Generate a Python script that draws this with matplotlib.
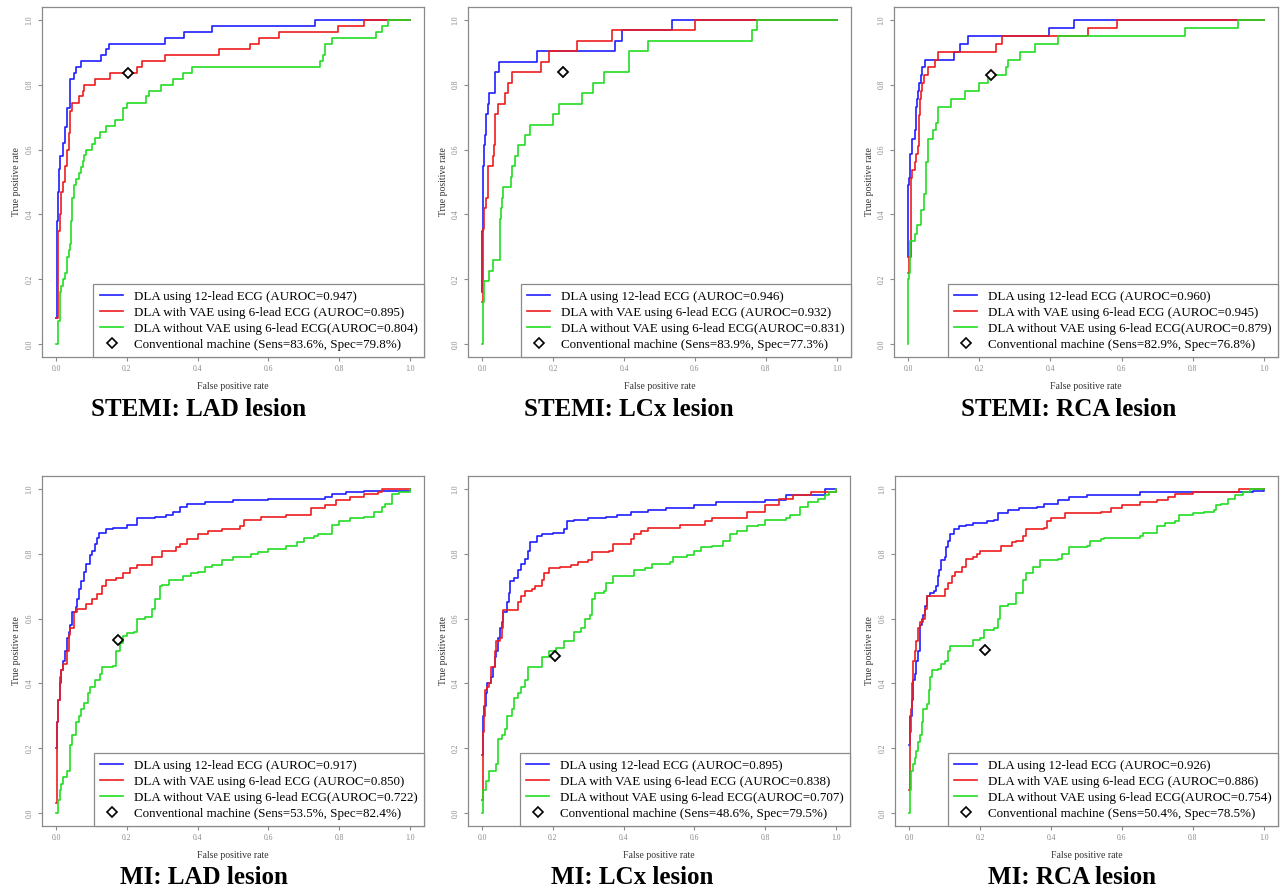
import matplotlib
matplotlib.use("Agg")
import matplotlib.pyplot as plt
from matplotlib.lines import Line2D

# ---- data: ROC curves, (fpr, tpr) vertices ----
# each point starts a plateau (drawn with steps-post)
stemi_lad_12 = [(0, 0.08), (0.003, 0.38), (0.005, 0.47), (0.008, 0.54), (0.012, 0.58),
                (0.02, 0.62), (0.025, 0.67), (0.03, 0.727), (0.038, 0.78), (0.04, 0.818),
                (0.05, 0.836), (0.055, 0.855), (0.07, 0.873), (0.127, 0.891), (0.141, 0.91),
                (0.15, 0.927), (0.308, 0.945), (0.361, 0.964), (0.44, 0.982), (0.732, 1.0), (1, 1.0)]
stemi_lad_vae = [(0, 0.08), (0.005, 0.35), (0.01, 0.4), (0.015, 0.47), (0.02, 0.5),
                 (0.025, 0.55), (0.03, 0.6), (0.035, 0.65), (0.04, 0.72), (0.045, 0.745),
                 (0.065, 0.764), (0.075, 0.782), (0.08, 0.8), (0.11, 0.818), (0.151, 0.836),
                 (0.228, 0.855), (0.243, 0.873), (0.308, 0.891), (0.46, 0.91), (0.547, 0.927),
                 (0.573, 0.945), (0.63, 0.964), (0.796, 0.982), (0.87, 1.0), (1, 1.0)]
stemi_lad_novae = [(0, 0.0), (0.005, 0.07), (0.01, 0.16), (0.015, 0.18), (0.02, 0.2),
                   (0.025, 0.22), (0.03, 0.27), (0.035, 0.29), (0.04, 0.31), (0.042, 0.33),
                   (0.043, 0.38), (0.045, 0.45), (0.05, 0.49), (0.055, 0.51), (0.065, 0.527),
                   (0.07, 0.545), (0.075, 0.564), (0.08, 0.582), (0.085, 0.6), (0.1, 0.618),
                   (0.11, 0.636), (0.125, 0.655), (0.14, 0.673), (0.165, 0.691), (0.19, 0.727),
                   (0.2, 0.745), (0.254, 0.764), (0.262, 0.782), (0.297, 0.8), (0.33, 0.818),
                   (0.36, 0.836), (0.385, 0.855), (0.747, 0.873), (0.755, 0.891), (0.76, 0.927),
                   (0.78, 0.945), (0.903, 0.964), (0.92, 0.982), (0.938, 1.0), (1, 1.0)]

stemi_lcx_12 = [(0, 0.16), (0.0, 0.35), (0.002, 0.48), (0.003, 0.548), (0.005, 0.613),
                (0.008, 0.645), (0.012, 0.71), (0.016, 0.742), (0.02, 0.774), (0.035, 0.806),
                (0.037, 0.839), (0.047, 0.871), (0.154, 0.903), (0.375, 0.935), (0.393, 0.968),
                (0.536, 1.0), (1, 1.0)]
stemi_lcx_vae = [(0, 0.13), (0.003, 0.355), (0.006, 0.42), (0.01, 0.452), (0.015, 0.548),
                 (0.03, 0.58), (0.033, 0.613), (0.036, 0.71), (0.045, 0.742), (0.065, 0.774),
                 (0.073, 0.806), (0.083, 0.839), (0.167, 0.871), (0.188, 0.903), (0.268, 0.935),
                 (0.365, 0.968), (0.6, 1.0), (1, 1.0)]
stemi_lcx_novae = [(0, 0.0), (0.002, 0.13), (0.004, 0.194), (0.02, 0.226), (0.03, 0.258),
                   (0.05, 0.387), (0.053, 0.419), (0.057, 0.452), (0.06, 0.484), (0.08, 0.516),
                   (0.085, 0.548), (0.093, 0.58), (0.1, 0.613), (0.12, 0.645), (0.135, 0.677),
                   (0.2, 0.71), (0.216, 0.742), (0.282, 0.774), (0.313, 0.806), (0.343, 0.839),
                   (0.414, 0.903), (0.468, 0.935), (0.76, 0.968), (0.774, 1.0), (1, 1.0)]

stemi_rca_12 = [(0, 0.27), (0.0, 0.49), (0.003, 0.512), (0.005, 0.585), (0.01, 0.61),
                (0.012, 0.634), (0.018, 0.659), (0.022, 0.732), (0.025, 0.756), (0.028, 0.78),
                (0.03, 0.805), (0.037, 0.829), (0.04, 0.854), (0.047, 0.878), (0.13, 0.902),
                (0.145, 0.927), (0.168, 0.951), (0.396, 0.976), (0.467, 1.0), (1, 1.0)]
stemi_rca_vae = [(0, 0.22), (0.003, 0.27), (0.007, 0.512), (0.012, 0.537), (0.018, 0.561),
                 (0.023, 0.585), (0.028, 0.61), (0.03, 0.707), (0.033, 0.756), (0.036, 0.78),
                 (0.04, 0.805), (0.043, 0.829), (0.057, 0.854), (0.076, 0.878), (0.085, 0.902),
                 (0.247, 0.927), (0.264, 0.951), (0.507, 0.976), (0.587, 1.0), (1, 1.0)]
stemi_rca_novae = [(0, 0.0), (0.0, 0.2), (0.002, 0.22), (0.004, 0.27), (0.006, 0.317),
                   (0.018, 0.341), (0.024, 0.366), (0.035, 0.415), (0.044, 0.463), (0.05, 0.561),
                   (0.055, 0.634), (0.07, 0.659), (0.077, 0.683), (0.085, 0.732), (0.12, 0.756),
                   (0.161, 0.78), (0.198, 0.805), (0.224, 0.829), (0.276, 0.854), (0.28, 0.878),
                   (0.314, 0.902), (0.356, 0.927), (0.422, 0.951), (0.778, 0.976), (0.927, 1.0),
                   (1, 1.0)]

mi_lad_12 = [(0, 0.2), (0.003, 0.28), (0.005, 0.35), (0.01, 0.4), (0.015, 0.44), (0.02, 0.47),
             (0.025, 0.5), (0.03, 0.54), (0.035, 0.56), (0.04, 0.58), (0.045, 0.62), (0.055, 0.635),
             (0.06, 0.66), (0.065, 0.69), (0.07, 0.715), (0.08, 0.745), (0.085, 0.77), (0.095, 0.795),
             (0.1, 0.81), (0.11, 0.83), (0.115, 0.85), (0.12, 0.865), (0.14, 0.877), (0.16, 0.88),
             (0.2, 0.888), (0.22, 0.89), (0.23, 0.91), (0.28, 0.915), (0.31, 0.92), (0.33, 0.93),
             (0.35, 0.945), (0.37, 0.955), (0.42, 0.96), (0.5, 0.965), (0.6, 0.97), (0.76, 0.975),
             (0.78, 0.985), (0.82, 0.99), (0.87, 0.995), (0.97, 0.995), (1, 1.0)]
mi_lad_vae = [(0, 0.03), (0.002, 0.28), (0.005, 0.35), (0.01, 0.42), (0.015, 0.44), (0.02, 0.46),
              (0.03, 0.5), (0.035, 0.55), (0.04, 0.57), (0.048, 0.57), (0.05, 0.62), (0.06, 0.63),
              (0.075, 0.63), (0.085, 0.645), (0.1, 0.66), (0.115, 0.675), (0.13, 0.7), (0.14, 0.72),
              (0.17, 0.725), (0.19, 0.74), (0.21, 0.755), (0.23, 0.765), (0.25, 0.765), (0.27, 0.79),
              (0.29, 0.79), (0.3, 0.81), (0.34, 0.82), (0.35, 0.83), (0.37, 0.845), (0.4, 0.86),
              (0.43, 0.87), (0.47, 0.875), (0.52, 0.885), (0.53, 0.905), (0.58, 0.915), (0.65, 0.92),
              (0.72, 0.925), (0.72, 0.94), (0.76, 0.95), (0.79, 0.965), (0.83, 0.975), (0.87, 0.985),
              (0.91, 0.99), (0.92, 1.0), (1, 1.0)]
mi_lad_novae = [(0, 0.0), (0.005, 0.04), (0.01, 0.07), (0.015, 0.09), (0.02, 0.11), (0.03, 0.13),
                (0.04, 0.16), (0.04, 0.21), (0.045, 0.24), (0.055, 0.28), (0.065, 0.3), (0.07, 0.32),
                (0.08, 0.34), (0.09, 0.37), (0.095, 0.39), (0.11, 0.41), (0.125, 0.43), (0.13, 0.45),
                (0.16, 0.455), (0.17, 0.5), (0.18, 0.525), (0.19, 0.545), (0.2, 0.555), (0.22, 0.56),
                (0.23, 0.6), (0.25, 0.605), (0.27, 0.63), (0.28, 0.66), (0.295, 0.7), (0.3, 0.705),
                (0.32, 0.72), (0.36, 0.73), (0.38, 0.74), (0.4, 0.745), (0.42, 0.76), (0.44, 0.765),
                (0.47, 0.78), (0.5, 0.79), (0.55, 0.8), (0.57, 0.805), (0.6, 0.815), (0.65, 0.825),
                (0.68, 0.835), (0.7, 0.85), (0.73, 0.855), (0.74, 0.86), (0.78, 0.89), (0.8, 0.9),
                (0.83, 0.91), (0.87, 0.915), (0.9, 0.93), (0.92, 0.945), (0.93, 0.955), (0.95, 0.985),
                (0.97, 0.99), (1, 1.0)]

mi_lcx_12 = [(0, 0.18), (0.003, 0.3), (0.005, 0.33), (0.01, 0.37), (0.015, 0.4), (0.025, 0.42),
             (0.03, 0.45), (0.035, 0.48), (0.04, 0.5), (0.045, 0.54), (0.05, 0.57), (0.055, 0.59),
             (0.06, 0.62), (0.07, 0.65), (0.075, 0.68), (0.08, 0.715), (0.09, 0.725), (0.1, 0.75),
             (0.11, 0.77), (0.12, 0.785), (0.13, 0.81), (0.135, 0.835), (0.15, 0.835), (0.155, 0.855),
             (0.17, 0.86), (0.2, 0.865), (0.23, 0.875), (0.24, 0.9), (0.26, 0.905), (0.3, 0.91),
             (0.35, 0.915), (0.38, 0.92), (0.42, 0.93), (0.47, 0.935), (0.52, 0.94), (0.6, 0.95),
             (0.66, 0.96), (0.8, 0.965), (0.86, 0.98), (0.97, 0.99), (0.97, 1.0), (1, 1.0)]
mi_lcx_vae = [(0, 0.04), (0.002, 0.25), (0.005, 0.3), (0.008, 0.38), (0.015, 0.39), (0.02, 0.4),
              (0.025, 0.45), (0.035, 0.5), (0.04, 0.53), (0.05, 0.54), (0.055, 0.57), (0.06, 0.625),
              (0.09, 0.625), (0.1, 0.65), (0.11, 0.67), (0.12, 0.685), (0.14, 0.69), (0.15, 0.7),
              (0.17, 0.72), (0.175, 0.74), (0.19, 0.755), (0.22, 0.76), (0.25, 0.765), (0.27, 0.775),
              (0.3, 0.78), (0.31, 0.805), (0.36, 0.81), (0.37, 0.83), (0.42, 0.845), (0.43, 0.86),
              (0.45, 0.87), (0.47, 0.88), (0.55, 0.88), (0.56, 0.89), (0.63, 0.9), (0.65, 0.91),
              (0.75, 0.915), (0.75, 0.93), (0.8, 0.95), (0.84, 0.97), (0.88, 0.98), (0.93, 0.99),
              (1, 1.0)]
mi_lcx_novae = [(0, 0.0), (0.003, 0.07), (0.01, 0.1), (0.02, 0.13), (0.04, 0.15), (0.045, 0.23),
                (0.055, 0.24), (0.065, 0.26), (0.07, 0.3), (0.085, 0.32), (0.09, 0.355), (0.1, 0.37),
                (0.11, 0.39), (0.12, 0.41), (0.13, 0.45), (0.165, 0.45), (0.17, 0.48), (0.19, 0.5),
                (0.21, 0.51), (0.23, 0.53), (0.25, 0.53), (0.26, 0.56), (0.28, 0.57), (0.29, 0.6),
                (0.305, 0.61), (0.31, 0.66), (0.32, 0.68), (0.345, 0.685), (0.35, 0.71), (0.37, 0.73),
                (0.43, 0.735), (0.43, 0.75), (0.46, 0.755), (0.48, 0.77), (0.53, 0.775), (0.54, 0.79),
                (0.58, 0.795), (0.6, 0.81), (0.62, 0.82), (0.65, 0.825), (0.68, 0.84), (0.7, 0.86),
                (0.72, 0.87), (0.75, 0.885), (0.78, 0.89), (0.8, 0.905), (0.86, 0.91), (0.87, 0.92),
                (0.9, 0.945), (0.92, 0.96), (0.95, 0.97), (0.97, 0.98), (0.98, 0.99), (1, 1.0)]

mi_rca_12 = [(0, 0.21), (0.003, 0.3), (0.008, 0.35), (0.01, 0.41), (0.015, 0.43), (0.02, 0.47),
             (0.025, 0.5), (0.03, 0.58), (0.035, 0.6), (0.04, 0.61), (0.045, 0.64), (0.05, 0.67),
             (0.06, 0.68), (0.07, 0.685), (0.075, 0.7), (0.08, 0.73), (0.085, 0.75), (0.09, 0.78),
             (0.1, 0.79), (0.105, 0.82), (0.11, 0.84), (0.115, 0.86), (0.125, 0.877), (0.14, 0.885),
             (0.16, 0.89), (0.18, 0.895), (0.22, 0.9), (0.24, 0.905), (0.25, 0.925), (0.28, 0.935),
             (0.31, 0.94), (0.36, 0.945), (0.38, 0.955), (0.42, 0.965), (0.45, 0.975), (0.5, 0.98),
             (0.65, 0.99), (0.78, 0.99), (0.97, 0.995), (1, 1.0)]
mi_rca_vae = [(0, 0.07), (0.003, 0.25), (0.005, 0.32), (0.008, 0.4), (0.01, 0.47), (0.015, 0.5),
              (0.02, 0.53), (0.025, 0.57), (0.03, 0.59), (0.04, 0.6), (0.045, 0.63), (0.05, 0.67),
              (0.09, 0.67), (0.1, 0.69), (0.11, 0.71), (0.12, 0.73), (0.13, 0.745), (0.15, 0.76),
              (0.16, 0.785), (0.18, 0.79), (0.19, 0.8), (0.2, 0.81), (0.25, 0.81), (0.26, 0.825),
              (0.29, 0.835), (0.3, 0.84), (0.32, 0.855), (0.33, 0.875), (0.38, 0.88), (0.39, 0.9),
              (0.4, 0.91), (0.44, 0.925), (0.54, 0.93), (0.57, 0.94), (0.6, 0.95), (0.65, 0.96),
              (0.7, 0.965), (0.73, 0.975), (0.75, 0.985), (0.8, 0.99), (0.92, 0.99), (0.93, 1.0),
              (1, 1.0)]
mi_rca_novae = [(0, 0.0), (0.003, 0.07), (0.005, 0.13), (0.01, 0.15), (0.015, 0.17), (0.02, 0.19),
                (0.025, 0.22), (0.03, 0.24), (0.035, 0.28), (0.04, 0.32), (0.05, 0.335), (0.055, 0.38),
                (0.06, 0.42), (0.065, 0.44), (0.08, 0.445), (0.09, 0.46), (0.1, 0.47), (0.11, 0.5),
                (0.115, 0.515), (0.17, 0.515), (0.18, 0.535), (0.2, 0.54), (0.21, 0.565), (0.24, 0.57),
                (0.25, 0.6), (0.255, 0.64), (0.28, 0.645), (0.3, 0.68), (0.315, 0.68), (0.32, 0.72),
                (0.33, 0.74), (0.35, 0.76), (0.37, 0.78), (0.42, 0.785), (0.43, 0.8), (0.45, 0.82),
                (0.5, 0.825), (0.51, 0.84), (0.54, 0.845), (0.55, 0.85), (0.65, 0.855), (0.66, 0.865),
                (0.7, 0.87), (0.7, 0.885), (0.72, 0.895), (0.75, 0.9), (0.76, 0.92), (0.8, 0.925),
                (0.83, 0.93), (0.86, 0.935), (0.865, 0.95), (0.88, 0.955), (0.9, 0.97), (0.92, 0.98),
                (0.94, 0.99), (0.96, 1.0), (1, 1.0)]

# conventional machine operating points (sensitivity %, specificity %)
machine_sens = [83.6, 83.9, 82.9, 53.5, 48.6, 50.4]
machine_spec = [79.8, 77.3, 76.8, 82.4, 79.5, 78.5]

auroc_12 = ["0.947", "0.946", "0.960", "0.917", "0.895", "0.926"]
auroc_vae = ["0.895", "0.932", "0.945", "0.850", "0.838", "0.886"]
auroc_novae = ["0.804", "0.831", "0.879", "0.722", "0.707", "0.754"]

panel_titles = ["STEMI: LAD lesion", "STEMI: LCx lesion", "STEMI: RCA lesion",
                "MI: LAD lesion", "MI: LCx lesion", "MI: RCA lesion"]

curves = [
    (stemi_lad_12, stemi_lad_vae, stemi_lad_novae),
    (stemi_lcx_12, stemi_lcx_vae, stemi_lcx_novae),
    (stemi_rca_12, stemi_rca_vae, stemi_rca_novae),
    (mi_lad_12, mi_lad_vae, mi_lad_novae),
    (mi_lcx_12, mi_lcx_vae, mi_lcx_novae),
    (mi_rca_12, mi_rca_vae, mi_rca_novae),
]

BLUE = "#1f1fff"
RED = "#ee1c1c"
GREEN = "#22dd22"
GRAY = "#8a8a8a"
SERIF = ["Liberation Serif", "DejaVu Serif"]

W, H = 1284, 891
fig = plt.figure(figsize=(W / 100, H / 100), dpi=100)

# axes boxes in pixels: (left, top, right, bottom)
boxes = [(42, 7, 424, 357), (468, 7, 851, 357), (894, 7, 1278, 357),
         (42, 476, 424, 826), (468, 476, 850, 826), (895, 476, 1278, 826)]
title_pos = [(199, 409), (629, 409), (1069, 409), (204, 878), (632, 878), (1072, 878)]


def unzip(points):
    return [p[0] for p in points], [p[1] for p in points]


for i, (l, t, r, b) in enumerate(boxes):
    ax = fig.add_axes([l / W, 1 - b / H, (r - l) / W, (b - t) / H])
    for pts, col in zip(curves[i], [BLUE, RED, GREEN]):
        x, y = unzip(pts)
        ax.plot(x, y, color=col, lw=1.2, drawstyle="steps-post")
    ax.plot(1 - machine_spec[i] / 100, machine_sens[i] / 100, marker="D", ms=5.5,
            mfc="white", mec="black", mew=1.3, ls="none")

    ax.set_xlim(-0.04, 1.04)
    ax.set_ylim(-0.04, 1.04)
    ticks = [0, 0.2, 0.4, 0.6, 0.8, 1.0]
    ax.set_xticks(ticks)
    ax.set_yticks(ticks)
    ax.set_xticklabels([f"{v:.1f}" for v in ticks])
    ax.set_yticklabels([f"{v:.1f}" for v in ticks], rotation=90, va="center")
    ax.tick_params(length=3, width=0.8, color=GRAY, labelsize=5.5, labelcolor=GRAY, pad=3)
    for lab in ax.get_xticklabels() + ax.get_yticklabels():
        lab.set_family(SERIF)
    for sp in ax.spines.values():
        sp.set_color(GRAY)
        sp.set_linewidth(0.9)
    ax.set_xlabel("False positive rate", fontsize=7, family=SERIF, color="#333333", labelpad=6)
    ax.set_ylabel("True positive rate", fontsize=7, family=SERIF, color="#333333", labelpad=3)

    handles = [Line2D([], [], color=BLUE, lw=1.2),
               Line2D([], [], color=RED, lw=1.2),
               Line2D([], [], color=GREEN, lw=1.2),
               Line2D([], [], color="black", marker="D", ms=5, mfc="white", mew=1.2, ls="none")]
    labels = [f"DLA using 12-lead ECG (AUROC={auroc_12[i]})",
              f"DLA with VAE using 6-lead ECG (AUROC={auroc_vae[i]})",
              f"DLA without VAE using 6-lead ECG(AUROC={auroc_novae[i]})",
              f"Conventional machine (Sens={machine_sens[i]}%, Spec={machine_spec[i]}%)"]
    leg = ax.legend(handles, labels, loc="lower right", bbox_to_anchor=(1, 0),
                    borderaxespad=0, fancybox=False, framealpha=1, edgecolor=GRAY,
                    prop={"family": SERIF, "size": 9.35}, handlelength=1.8,
                    handletextpad=0.8, labelspacing=0.3, borderpad=0.5)
    leg.get_frame().set_linewidth(0.9)

    tx, ty = title_pos[i]
    fig.text(tx / W, 1 - ty / H, panel_titles[i], ha="center", va="center",
             fontsize=18, fontweight="bold", family=SERIF)

fig.savefig("out.png", dpi=100, facecolor="white")
